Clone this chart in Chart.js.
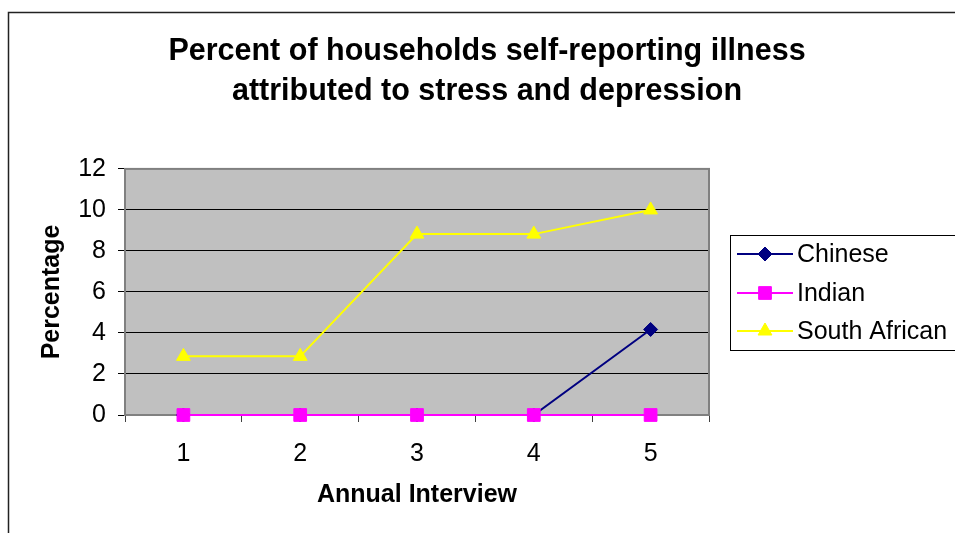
<!DOCTYPE html>
<html>
<head>
<meta charset="utf-8">
<script src="https://cdn.jsdelivr.net/npm/chart.js@4/dist/chart.umd.min.js"></script>
<style>
  html, body { margin: 0; padding: 0; background: #fff; }
  #wrap { width: 955px; height: 533px; }
</style>
</head>
<body>
<div id="wrap"><canvas id="myChart" width="955" height="533"></canvas></div>
<script>
const interviews = ["1", "2", "3", "4", "5"];
const chinese = [0, 0, 0, 0, 4.17];
const indian = [0, 0, 0, 0, 0];
const southAfrican = [2.86, 2.86, 8.82, 8.82, 10];
const seriesNames = ["Chinese", "Indian", "South African"];

const FONT = "Arial, 'Liberation Sans', sans-serif";

// plot area fill, border and the outer frame
const plotFrame = {
  id: "plotFrame",
  beforeDraw(chart) {
    const ctx = chart.ctx;
    const a = chart.chartArea;
    ctx.save();
    ctx.fillStyle = "#ffffff";
    ctx.fillRect(0, 0, chart.width, chart.height);
    ctx.strokeStyle = "#222222";
    ctx.lineWidth = 1.5;
    ctx.beginPath();
    ctx.moveTo(8.5, chart.height + 2);
    ctx.lineTo(8.5, 12.5);
    ctx.lineTo(chart.width + 2, 12.5);
    ctx.stroke();
    ctx.fillStyle = "#c0c0c0";
    ctx.fillRect(a.left, a.top, a.right - a.left, a.bottom - a.top);
    ctx.restore();
  },
  beforeDatasetsDraw(chart) {
    const ctx = chart.ctx;
    const a = chart.chartArea;
    ctx.save();
    ctx.strokeStyle = "#808080";
    ctx.lineWidth = 2;
    ctx.strokeRect(a.left, a.top, a.right - a.left, a.bottom - a.top);
    ctx.restore();
  },
};

// boxed legend on the right
const boxLegend = {
  id: "boxLegend",
  afterDraw(chart) {
    const ctx = chart.ctx;
    const boxX = 730.5, boxY = 235.5, boxW = 260, boxH = 115;
    ctx.save();
    ctx.strokeStyle = "#000000";
    ctx.lineWidth = 1;
    ctx.strokeRect(boxX, boxY, boxW, boxH);
    ctx.font = "25px " + FONT;
    ctx.textBaseline = "middle";
    ctx.textAlign = "left";
    const rowY = [254, 293, 331];
    chart.data.datasets.forEach((ds, i) => {
      const y = rowY[i];
      ctx.strokeStyle = ds.borderColor;
      ctx.lineWidth = 2;
      ctx.beginPath();
      ctx.moveTo(737, y);
      ctx.lineTo(793, y);
      ctx.stroke();
      ctx.fillStyle = ds.pointBackgroundColor;
      ctx.strokeStyle = ds.pointBorderColor;
      ctx.lineWidth = 1;
      Chart.helpers.drawPoint(ctx, {
        pointStyle: ds.pointStyle,
        radius: ds.pointRadius,
        rotation: 0,
        borderWidth: 1,
      }, 765, y);
      ctx.fillStyle = "#000000";
      ctx.fillText(ds.label, 797, y + 1);
    });
    ctx.restore();
  },
};

function series(label, data, color, style, radius, order) {
  return {
    label: label,
    data: data,
    borderColor: color,
    backgroundColor: color,
    borderWidth: 2,
    pointStyle: style,
    pointRadius: radius,
    pointHoverRadius: radius,
    pointBackgroundColor: color,
    pointBorderColor: color,
    pointBorderWidth: 1,
    tension: 0,
    clip: false,
    order: order,
  };
}

const config = {
  type: "line",
  data: {
    labels: interviews,
    datasets: [
      series(seriesNames[0], chinese, "#000080", "rectRot", 7, 1),
      series(seriesNames[1], indian, "#ff00ff", "rect", 9, 0),
      series(seriesNames[2], southAfrican, "#ffff00", "triangle", 8, 2),
    ],
  },
  options: {
    responsive: false,
    animation: false,
    layout: {
      padding: { left: 30, right: 11, top: 0, bottom: 20 },
    },
    plugins: {
      legend: { display: false },
      tooltip: { enabled: false },
      title: {
        display: true,
        text: [
          "Percent of households self-reporting illness",
          "attributed to stress and depression",
        ],
        color: "#000000",
        font: { family: FONT, size: 30.5, weight: "bold", lineHeight: 1.31 },
        padding: { top: 32, bottom: 57 },
      },
    },
    scales: {
      x: {
        offset: true,
        grid: {
          offset: true,
          drawOnChartArea: false,
          drawTicks: true,
          tickLength: 7,
          color: "#404040",
        },
        border: { display: false },
        ticks: {
          color: "#000000",
          font: { family: FONT, size: 25 },
          padding: 17,
        },
        title: {
          display: true,
          text: "Annual Interview",
          color: "#000000",
          font: { family: FONT, size: 25, weight: "bold" },
          padding: { top: 4, bottom: 3 },
        },
        afterFit(scale) {
          scale.height = 98;
        },
      },
      y: {
        min: 0,
        max: 12,
        grid: {
          color: "#000000",
          lineWidth: 1,
          drawTicks: true,
          tickLength: 7,
        },
        border: { display: false },
        ticks: {
          stepSize: 2,
          color: "#000000",
          font: { family: FONT, size: 25 },
          padding: 12,
        },
        title: {
          display: true,
          text: "Percentage",
          color: "#000000",
          font: { family: FONT, size: 25, weight: "bold" },
          padding: { top: 7, bottom: 4 },
        },
        afterFit(scale) {
          scale.width = 95;
        },
      },
      // keeps room on the right for the legend box
      spacer: {
        type: "linear",
        position: "right",
        display: true,
        grid: { display: false },
        border: { display: false },
        ticks: { display: false },
        afterFit(scale) {
          scale.width = 235;
        },
      },
    },
  },
  plugins: [plotFrame, boxLegend],
};

const myChart = new Chart(document.getElementById("myChart").getContext("2d"), config);
</script>
</body>
</html>
